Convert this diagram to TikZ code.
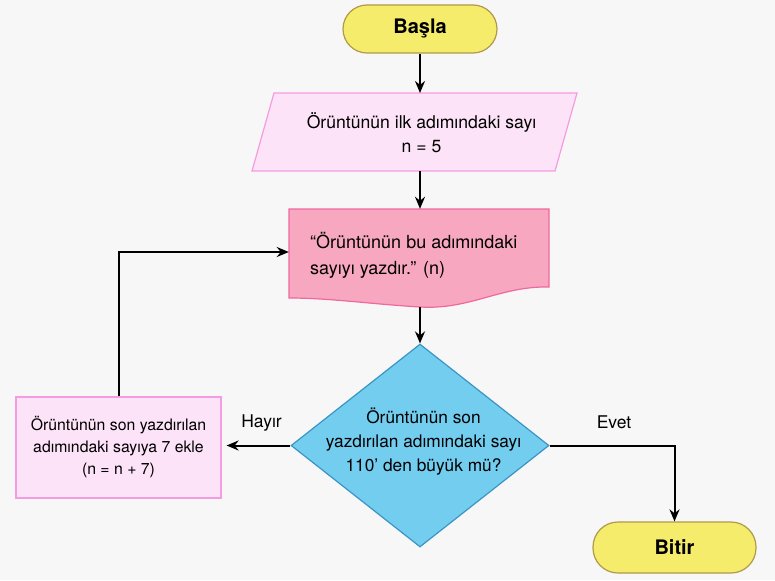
\documentclass[tikz,border=0pt]{standalone}
\usepackage{fontspec}
\setmainfont{TeX Gyre Heros}
\usetikzlibrary{shapes.geometric,arrows.meta}
\definecolor{bg}{HTML}{F7F7F7}
\definecolor{termfill}{HTML}{F6EC6C}
\definecolor{termdraw}{HTML}{B09A48}
\definecolor{parfill}{HTML}{FCE3F7}
\definecolor{pardraw}{HTML}{F59CE0}
\definecolor{docfill}{HTML}{F8A7C1}
\definecolor{docdraw}{HTML}{F0689E}
\definecolor{decfill}{HTML}{72CDEE}
\definecolor{decdraw}{HTML}{3B95C4}
\tikzset{
  terminal/.style={rounded corners=24pt, draw=termdraw, fill=termfill, line width=1.2pt,
    inner sep=0pt, font=\fontsize{20}{22}\selectfont\bfseries},
  ghost/.style={inner sep=0pt, align=center},
  arr/.style={-{Stealth[length=12pt,width=10pt]}, line width=2pt, black},
  lbl/.style={font=\fontsize{17.5}{19}\selectfont, inner sep=0pt}
}
\begin{document}
\begin{tikzpicture}[x=1pt,y=-1pt]
\fill[bg] (0,0) rectangle (775,580);
\useasboundingbox (0,0) rectangle (775,580);

% Start
\node[terminal, minimum width=154pt, minimum height=48pt] (start) at (420,29) {Başla};

% Input parallelogram
\node[ghost, minimum width=280pt, minimum height=78pt] (inp) at (420,132) {};
\draw[draw=pardraw, fill=parfill, line width=1.2pt]
  (274,93) -- (577,93) -- (555,171) -- (252,171) -- cycle;
\node[ghost, font=\fontsize{17.6}{24}\selectfont] at (421.5,133) {Örüntünün ilk adımındaki sayı\\n = 5};

% Document
\node[ghost, minimum width=260pt, minimum height=86pt] (doc) at (419,252) {};
\coordinate (docbot) at (420,307);
\draw[draw=docdraw, fill=docfill, line width=1.2pt]
  (289,209) -- (549,209) -- (549,287)
  .. controls (500,286) and (470,310) .. (420,307)
  .. controls (370,304) and (330,298) .. (289,298) -- cycle;
\node[ghost, align=left, anchor=west, font=\fontsize{18}{26}\selectfont] at (310,255)
  {“Örüntünün bu adımındaki\\sayıyı yazdır.” (n)};

% Decision
\node[diamond, aspect=1.27, draw=decdraw, fill=decfill, line width=1.2pt,
  minimum width=258pt, minimum height=203pt, inner sep=0pt] (dec) at (420,445.5) {};
\node[ghost, font=\fontsize{17.3}{24}\selectfont] at (423.5,442)
  {Örüntünün son\\yazdırılan adımındaki sayı\\110’ den büyük mü?};

% Process box
\node[draw=pardraw, fill=parfill, line width=1.2pt, minimum width=205pt, minimum height=101pt,
  inner sep=0pt, align=center, font=\fontsize{15.8}{22}\selectfont] (proc) at (118.5,447.5)
  {Örüntünün son yazdırılan\\adımındaki sayıya 7 ekle\\(n = n + 7)};

% End
\node[terminal, minimum width=163pt, minimum height=51pt, rounded corners=25pt] (stop) at (674.5,547.5) {Bitir};

% Connectors
\draw[arr] (start.south) -- (420,93);
\draw[arr] (420,171) -- (doc.north -| 420,0);
\draw[arr] (docbot) -- (dec.north);
\draw[arr, shorten >=5pt] (dec.west) -- (proc.east |- dec.west);
\coordinate (c1) at (proc.north |- doc.west);
\draw[arr] (proc.north) -- (c1) -- (doc.west);
\draw[arr] (dec.east) -| (stop.north);

% Labels
\node[lbl] at (261.5,423) {Hayır};
\node[lbl] at (614,422) {Evet};
\end{tikzpicture}
\end{document}
